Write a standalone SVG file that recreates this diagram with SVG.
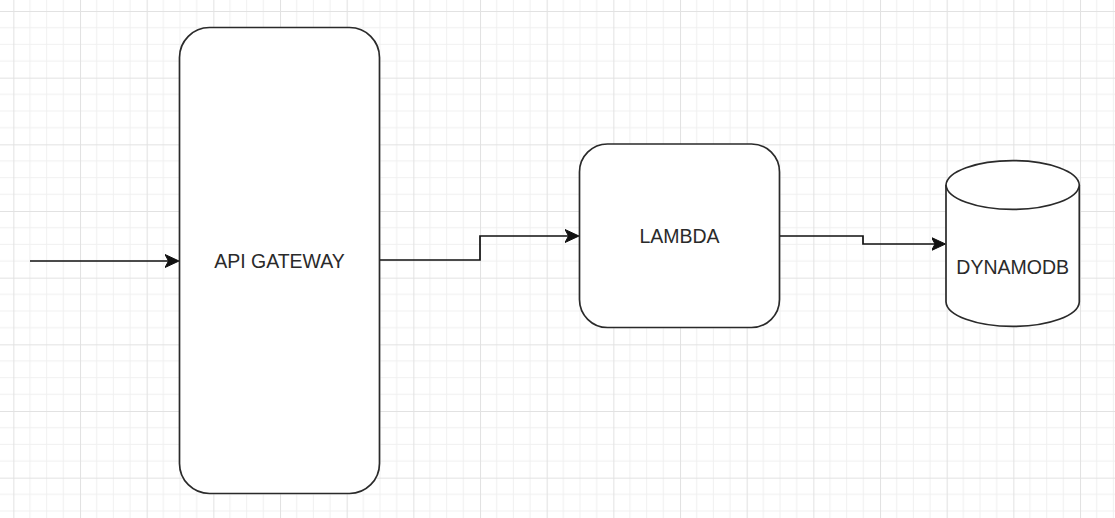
<svg xmlns="http://www.w3.org/2000/svg" width="1115" height="518" viewBox="0 0 1115 518">
  <style>
    .shape { fill: #ffffff; stroke: #2a2a2a; stroke-width: 1.7; }
    .edge { fill: none; stroke: #111111; stroke-width: 1.7; }
    .label { font-family: "Liberation Sans", Arial, sans-serif; font-size: 19.5px; fill: #2a2a2a; text-anchor: middle; }
  </style>
  <defs>
    <pattern id="grid" patternUnits="userSpaceOnUse" x="13.333" y="11" width="66.667" height="66.667">
      <rect x="0" y="0" width="66.667" height="66.667" fill="#ffffff"/>
      <g stroke="#f0f0f0" stroke-width="1">
        <line x1="16.667" y1="0" x2="16.667" y2="66.667"/>
        <line x1="33.333" y1="0" x2="33.333" y2="66.667"/>
        <line x1="50" y1="0" x2="50" y2="66.667"/>
        <line x1="0" y1="16.667" x2="66.667" y2="16.667"/>
        <line x1="0" y1="33.333" x2="66.667" y2="33.333"/>
        <line x1="0" y1="50" x2="66.667" y2="50"/>
      </g>
      <g stroke="#e2e2e2" stroke-width="1">
        <line x1="0.5" y1="0" x2="0.5" y2="66.667"/>
        <line x1="0" y1="0.5" x2="66.667" y2="0.5"/>
      </g>
    </pattern>
    <marker id="arrow" markerUnits="userSpaceOnUse" markerWidth="16" markerHeight="16" viewBox="0 -8 16 16" refX="10" refY="0" orient="auto">
      <path d="M0,-6.5 L14,0 L0,6.5 L3.5,0 Z" fill="#111111" stroke="#111111" stroke-width="1"/>
    </marker>
  </defs>
  <rect x="0" y="0" width="1115" height="518" fill="url(#grid)"/>

  <g id="connectors">
    <path class="edge" d="M30,261 H175" marker-end="url(#arrow)"/>
    <path class="edge" d="M380,260 H480 V236 H575" marker-end="url(#arrow)"/>
    <path class="edge" d="M780,236 H863 V244 H941.5" marker-end="url(#arrow)"/>
  </g>

  <g id="api-gateway">
    <rect class="shape" x="179.5" y="27.5" width="200" height="466" rx="30" ry="30"/>
    <text class="label" x="279.5" y="268">API GATEWAY</text>
  </g>

  <g id="lambda">
    <rect class="shape" x="579.5" y="144" width="200" height="183.5" rx="28" ry="28"/>
    <text class="label" x="679.5" y="243">LAMBDA</text>
  </g>

  <g id="dynamodb">
    <path class="shape" d="M946,185 A66.667,25 0 0 1 1079.3,185 V302 A66.667,25 0 0 1 946,302 Z"/>
    <path class="shape" fill="none" d="M946,185 A66.667,25 0 0 0 1079.3,185"/>
    <text class="label" x="1012.7" y="274">DYNAMODB</text>
  </g>
</svg>
